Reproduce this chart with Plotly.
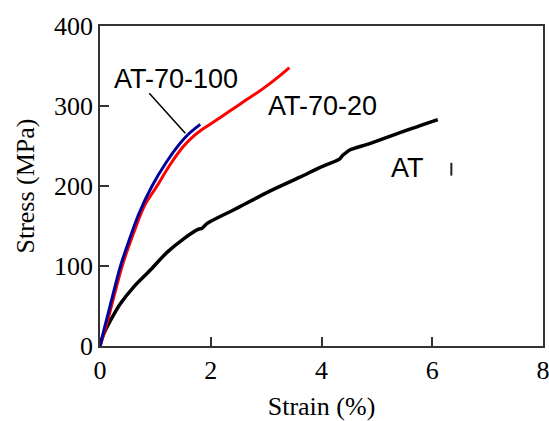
import plotly.graph_objects as go

# Stress-strain curves (strain in %, stress in MPa)
strain_at_70_100 = [0, 0.1, 0.2, 0.37, 0.5, 0.7, 0.94, 1.2, 1.43, 1.6, 1.81]
stress_at_70_100 = [0, 28, 55, 100, 127, 165, 200, 230, 252, 265, 277]

strain_at_70_20 = [0, 0.1, 0.2, 0.4, 0.6, 0.8, 1.03, 1.25, 1.5, 1.7, 1.85, 2.05, 2.35, 2.65, 2.95, 3.25, 3.42]
stress_at_70_20 = [0, 22, 48, 100, 140, 175, 200, 225, 249, 263, 271, 280, 294, 308, 322, 338, 348]

strain_at = [0, 0.05, 0.1, 0.19, 0.37, 0.61, 0.91, 1.21, 1.51, 1.78, 1.84, 1.93, 2.41, 3.05, 3.61,
             3.97, 4.33, 4.38, 4.45, 4.51, 4.87, 5.47, 6.1]
stress_at = [0, 12, 20, 32, 53, 74, 95, 117, 134, 146, 147, 153, 170, 193, 211,
             223, 234, 238, 242, 245, 253, 268, 283]

x_ticks = [0, 2, 4, 6, 8]
y_ticks = [0, 100, 200, 300, 400]

serif = "Liberation Serif"
sans = "Liberation Sans"

fig = go.Figure()
fig.add_trace(go.Scatter(x=strain_at, y=stress_at, mode="lines",
                         line=dict(color="#000000", width=3.5, shape="spline", smoothing=0.8),
                         name="AT"))
fig.add_trace(go.Scatter(x=strain_at_70_20, y=stress_at_70_20, mode="lines",
                         line=dict(color="#ff0000", width=3, shape="spline", smoothing=0.8),
                         name="AT-70-20"))
fig.add_trace(go.Scatter(x=strain_at_70_100, y=stress_at_70_100, mode="lines",
                         line=dict(color="#00009c", width=3, shape="spline", smoothing=0.8),
                         name="AT-70-100"))

axis_common = dict(
    showline=True, linecolor="#333333", linewidth=1.5, mirror=True,
    ticks="inside", ticklen=9, tickwidth=1.5, tickcolor="#333333",
    showgrid=False, zeroline=False, automargin=False, ticklabeloverflow="allow",
    tickfont=dict(family=serif, size=26, color="#000000"),
)

fig.update_xaxes(range=[0, 8], tickvals=x_ticks, **axis_common,
                 title=dict(text="Strain (%)", font=dict(family=serif, size=26, color="#000000"),
                            standoff=14))
fig.update_yaxes(range=[0, 400], tickvals=y_ticks, **axis_common,
                 title=dict(text="Stress (MPa)", font=dict(family=serif, size=26, color="#000000"),
                            standoff=12))

label_font = dict(family=sans, size=27, color="#000000")
fig.add_annotation(x=0.22, y=334, text="AT-70-100", showarrow=False, xanchor="left",
                   yanchor="middle", font=label_font)
fig.add_annotation(x=3.0, y=300, text="AT-70-20", showarrow=False, xanchor="left",
                   yanchor="middle", font=label_font)
fig.add_annotation(x=5.22, y=222, text="AT", showarrow=False, xanchor="left",
                   yanchor="middle", font=label_font)

# leader line from the AT-70-100 label to its curve
fig.add_shape(type="line", x0=0.89, y0=316, x1=1.54, y1=266,
              line=dict(color="#000000", width=1.5))
# stray glyph fragment beside the AT label
fig.add_shape(type="line", x0=6.345, y0=229, x1=6.345, y1=213,
              line=dict(color="#222222", width=2))

fig.update_layout(
    width=549, height=421,
    margin=dict(l=100, r=6, t=26, b=75),
    paper_bgcolor="white", plot_bgcolor="white",
    showlegend=False,
)

fig.write_html("out.html")
